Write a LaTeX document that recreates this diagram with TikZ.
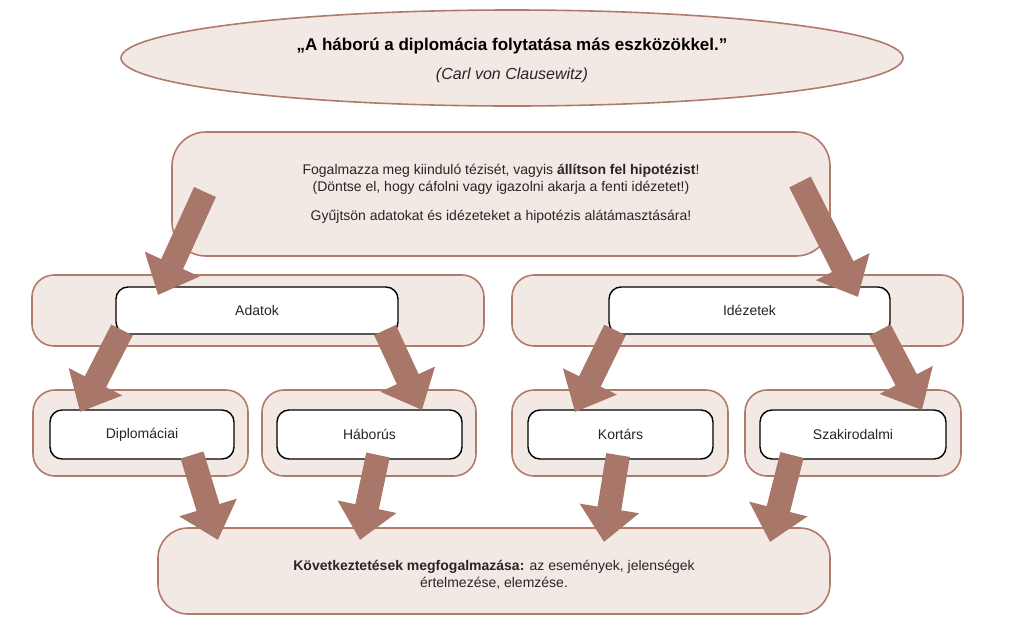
\documentclass[tikz,border=0pt]{standalone}
\usepackage{fontspec}
\setmainfont{Liberation Sans}
\usetikzlibrary{shapes.geometric,arrows.meta}
\definecolor{bfill}{HTML}{F3E9E4}
\definecolor{bline}{HTML}{B07B6B}
\definecolor{arr}{HTML}{A8776A}
\tikzset{
 outer/.style={draw=bline,fill=bfill,line width=1.6pt,rounded corners=22pt},
 inner/.style={draw=black,fill=white,line width=1.4pt,rounded corners=12pt},
 lbl/.style={font=\fontsize{14pt}{17pt}\selectfont,text=black!85},
 blk/.style={arr,line width=24pt,-{Triangle[width=58pt,length=34pt]}}
}
\begin{document}
\begin{tikzpicture}[x=1pt,y=-1pt]
\useasboundingbox (0,0) rectangle (1024,630);
\node[ellipse,draw=bline,fill=bfill,line width=1.6pt,minimum width=782pt,minimum height=96pt] (quote) at (512,58) {};
\node[font=\fontsize{17pt}{20pt}\selectfont\bfseries] (q1) at (512,46) {„A háború a diplomácia folytatása más eszközökkel.”};
\node[lbl,font=\fontsize{16pt}{19pt}\selectfont\itshape] (q2) at (512,75) {(Carl von Clausewitz)};
% top box
\draw[outer,rounded corners=34pt] (172,132) rectangle (830,256);
\node[lbl,align=center] (top) at (501,194) {Fogalmazza meg kiinduló tézisét, vagyis \textbf{állítson fel hipotézist}!\\(Döntse el, hogy cáfolni vagy igazolni akarja a fenti idézetet!)\\[12pt]Gyűjtsön adatokat és idézeteket a hipotézis alátámasztására!};
% level 2
\draw[outer] (32,275) rectangle (484,346);
\draw[outer] (512,275) rectangle (963,346);
\draw[inner] (116,287) rectangle node[lbl] (adat) {Adatok} (398,334);
\draw[inner] (609,287) rectangle node[lbl] (idez) {Idézetek} (890,334);
% level 3
\foreach \x/\w/\ix/\iw/\n/\t in {33/248/50/234/dip/Diplomáciai,262/476/277/462/hab/Háborús,512/728/528/713/kor/Kortárs,745/961/760/946/szak/Szakirodalmi}{
 \draw[outer] (\x,390) rectangle (\w,476);
 \draw[inner] (\ix,410) rectangle node[lbl] (\n) {\t} (\iw,459);
}
% bottom
\draw[outer,rounded corners=30pt] (158,528) rectangle (830,614);
\node[lbl,align=center] (bot) at (494,575) {\textbf{Következtetések megfogalmazása:} az események, jelenségek\\értelmezése, elemzése.};
% arrows
\coordinate (a1s) at (205,192); \coordinate (a1e) at (158,295);
\coordinate (a2s) at (800,182); \coordinate (a2e) at (858,297);
\coordinate (a3s) at (122,330); \coordinate (a3e) at (80,412);
\coordinate (a4s) at (385,330); \coordinate (a4e) at (422,410);
\coordinate (a5s) at (615,330); \coordinate (a5e) at (575,412);
\coordinate (a6s) at (880,330); \coordinate (a6e) at (922,410);
\coordinate (a7s) at (192,455); \coordinate (a7e) at (218,540);
\coordinate (a8s) at (378,455); \coordinate (a8e) at (360,540);
\coordinate (a9s) at (618,455); \coordinate (a9e) at (604,542);
\coordinate (a10s) at (792,455); \coordinate (a10e) at (770,542);
\foreach \i in {1,...,10}{\draw[blk] (a\i s) -- (a\i e);}
\end{tikzpicture}
\end{document}
